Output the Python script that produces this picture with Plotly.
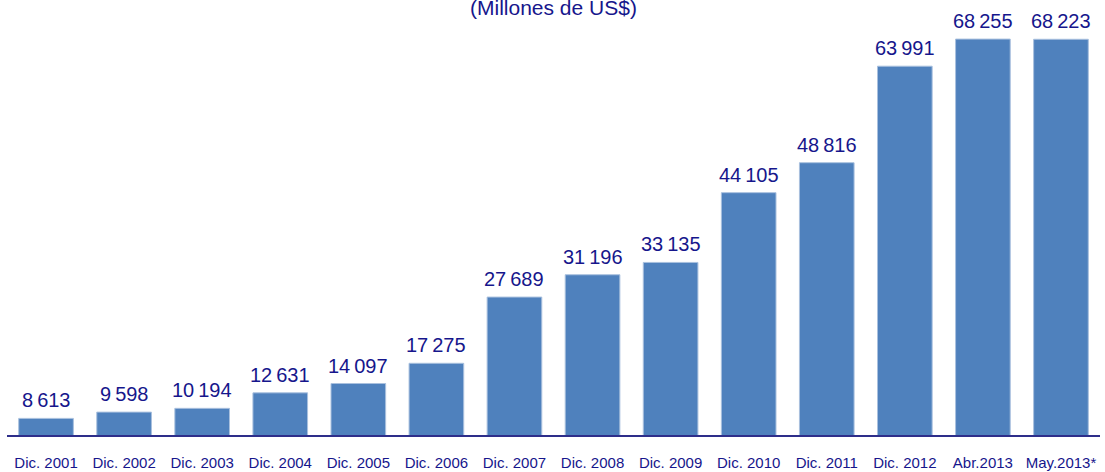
import plotly.graph_objects as go

categories = ["Dic. 2001", "Dic. 2002", "Dic. 2003", "Dic. 2004", "Dic. 2005", "Dic. 2006",
              "Dic. 2007", "Dic. 2008", "Dic. 2009", "Dic. 2010", "Dic. 2011", "Dic. 2012",
              "Abr.2013", "May.2013*"]
values = [8613, 9598, 10194, 12631, 14097, 17275, 27689, 31196, 33135, 44105, 48816, 63991,
          68255, 68223]
labels = ["8\u2009613", "9\u2009598", "10\u2009194", "12\u2009631", "14\u2009097", "17\u2009275",
          "27\u2009689", "31\u2009196", "33\u2009135", "44\u2009105", "48\u2009816", "63\u2009991",
          "68\u2009255", "68\u2009223"]
subtitle = "(Millones de US$)"

navy = "#16168c"
font_main = "Liberation Sans, Arial, sans-serif"

fig = go.Figure()
fig.add_trace(go.Bar(
    x=categories, y=values,
    marker=dict(color="#4f81bd", line=dict(color="#a9c0de", width=1)),
    width=0.7,
    hoverinfo="skip",
))
for c, v, t in zip(categories, values, labels):
    fig.add_annotation(x=c, y=v, text=t, showarrow=False, yanchor="bottom", yshift=5,
                       font=dict(size=20, color=navy, family=font_main))
fig.add_annotation(x=0.5, xref="paper", y=1, yref="paper", yanchor="middle", yshift=-7,
                   text=subtitle, showarrow=False,
                   font=dict(size=21, color=navy, family=font_main))

fig.update_layout(
    width=1105, height=472,
    margin=dict(l=7, r=5, t=0, b=37),
    plot_bgcolor="white", paper_bgcolor="white",
    showlegend=False,
    xaxis=dict(showline=True, linecolor="#2e2e8a", linewidth=1.5, ticks="", showgrid=False,
               tickfont=dict(size=15, color=navy, family=font_main),
               ticklabelstandoff=13, fixedrange=True),
    yaxis=dict(visible=False, range=[6000, 74400], showgrid=False, fixedrange=True),
)
fig.write_html("out.html", config={"displayModeBar": False},
               post_script="document.body.style.margin='0';")
